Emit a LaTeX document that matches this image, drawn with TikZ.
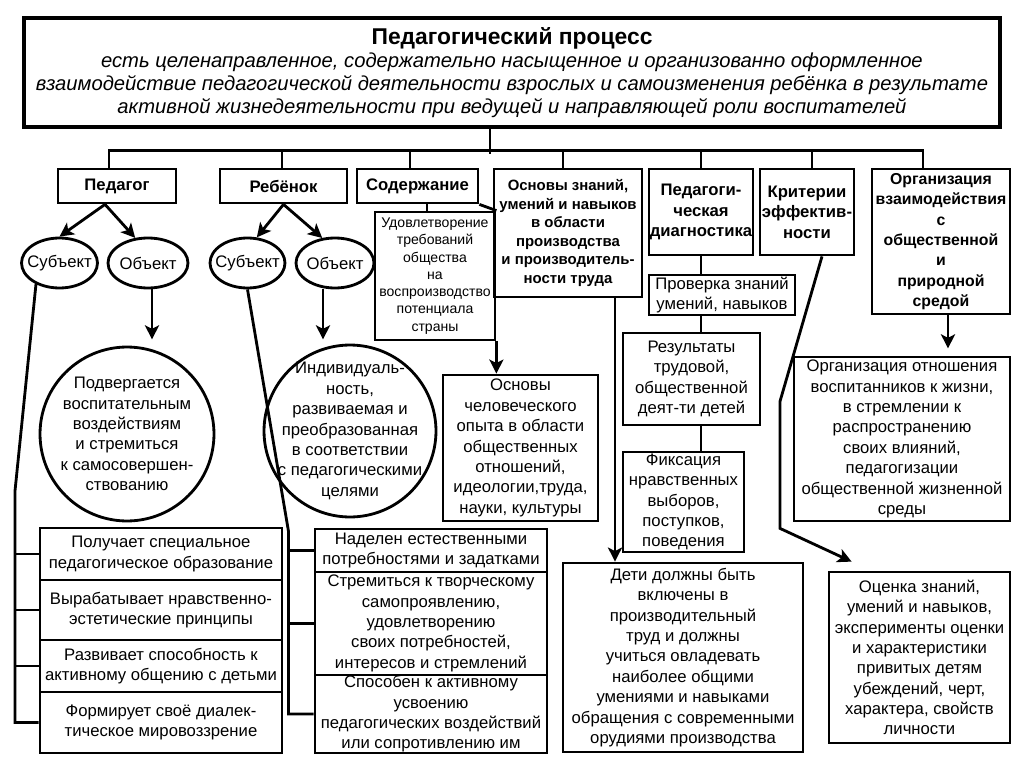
\documentclass[tikz,border=0pt]{standalone}
\usepackage{fontspec}
\setmainfont{Liberation Sans}
\usepackage{tikz}
\usetikzlibrary{arrows.meta, shapes.geometric}

\begin{document}
\begin{tikzpicture}[x=0.02cm, y=-0.02cm, font=\fontsize{9.5}{11.6}\selectfont,
    box/.style={draw, line width=1.6pt, inner sep=0pt, align=center},
    head/.style={box, font=\fontsize{9.5}{11.6}\selectfont\bfseries},
    oval/.style={draw, ellipse, line width=1.6pt, inner sep=0pt, minimum height=1cm},
    ring/.style={draw, circle, line width=1.6pt, inner sep=0pt},
    link/.style={line width=1.6pt},
    arr/.style={line width=1.6pt, -{Stealth[length=8pt, width=8pt, inset=2pt]}}]
    \fill[white] (0,0) rectangle (1024,767);

    % Заголовок
    \node (title) [box, line width=2pt, font=\fontsize{11.5}{13}\selectfont, minimum width=19.52cm, minimum height=2.18cm] at (512,72.5)
        {{\fontsize{13}{13}\selectfont\bfseries Педагогический процесс}\\
         \itshape есть целенаправленное, содержательно насыщенное и организованно оформленное\\
         \itshape взаимодействие педагогической деятельности взрослых и самоизменения ребёнка в результате\\
         \itshape активной жизнедеятельности при ведущей и направляющей роли воспитателей};

    % Ветви верхнего уровня
    \node (pedagog) [head, minimum width=2.36cm, minimum height=0.68cm] at (117,186) {Педагог};
    \node (rebenok) [head, minimum width=2.54cm, minimum height=0.68cm] at (283.5,186) {Ребёнок};
    \node (soderzh) [head, minimum width=2.42cm, minimum height=0.68cm] at (417.5,186) {Содержание};
    \node (osnovy) [head, font=\fontsize{8.5}{10.6}\selectfont\bfseries, minimum width=2.96cm, minimum height=2.56cm] at (568,233)
        {Основы знаний,\\умений и навыков\\в области\\производства\\и производитель-\\ности труда};
    \node (diag) [head, minimum width=2.08cm, minimum height=1.72cm] at (701,212) {Педагоги-\\ческая\\диагностика};
    \node (krit) [head, minimum width=1.88cm, minimum height=1.72cm] at (807,212) {Критерии\\эффектив-\\ности};
    \node (organiz) [head, font=\fontsize{9}{11.6}\selectfont\bfseries, minimum width=2.76cm, minimum height=2.9cm] at (941,241.5)
        {Организация\\взаимодействия\\с\\общественной\\и\\природной\\средой};

    % Общая шина
    \draw[link] ([xshift=-0.44cm]title.south) -- ++(0,25);
    \draw[link] ([xshift=-0.16cm]pedagog.north) -- ++(0,-17) -| ([xshift=-0.36cm]organiz.north);
    \draw[link] ([xshift=-0.03cm]rebenok.north) -- ++(0,-17);
    \draw[link] ([xshift=-0.15cm]soderzh.north) -- ++(0,-17);
    \draw[link] ([xshift=-0.1cm]osnovy.north) -- ++(0,-17);
    \draw[link] (diag.north) -- ++(0,-17);
    \draw[link] ([xshift=0.1cm]krit.north) -- ++(0,-17);

    % Субъект и объект
    \node (subj1) [oval, minimum width=1.52cm, label=center:Субъект] at (59.5,263) {};
    \node (obj1) [oval, minimum width=1.6cm, label=center:Объект] at (148,263) {};
    \node (subj2) [oval, minimum width=1.5cm, label=center:Субъект] at (247.5,263) {};
    \node (obj2) [oval, minimum width=1.56cm, label=center:Объект] at (335,263) {};

    \draw[arr] ([xshift=-0.24cm]pedagog.south) -- (subj1.north);
    \draw[arr] ([xshift=-0.24cm]pedagog.south) -- (obj1.117);
    \draw[arr] (rebenok.south) -- (subj2.70);
    \draw[arr] (rebenok.south) -- (obj2.117);

    \node (circ1) [ring, minimum size=3.48cm, label={[align=center]center:Подвергается\\воспитательным\\воздействиям\\и стремиться\\к самосовершен-\\ствованию}] at (127,434) {};
    \node (circ2) [ring, minimum size=3.44cm, label={[align=center]center:Индивидуаль-\\ность,\\развиваемая и\\преобразованная\\в соответствии\\с педагогическими\\целями}] at (350,431) {};

    \draw[arr] ([xshift=0.08cm]obj1.south) -- ++(0,50);
    \draw[arr] ([xshift=-0.24cm]obj2.south) -- ++(0,50);

    % Педагог
    \node (l1) [box, minimum width=4.84cm, minimum height=1.04cm] at (161,554) {Получает специальное\\педагогическое образование};
    \node (l2) [box, minimum width=4.84cm, minimum height=1.2cm] at (161,610) {Вырабатывает нравственно-\\эстетические принципы};
    \node (l3) [box, minimum width=4.84cm, minimum height=1.04cm] at (161,666) {Развивает способность к\\активному общению с детьми};
    \node (l4) [box, minimum width=4.84cm, minimum height=1.22cm] at (161,722.5) {Формирует своё диалек-\\тическое мировоззрение};

    \draw[link] (subj1.222) -- ++(-21,207) |- (l4.west);
    \draw[link] (l1.west) -- ++(-24,0);
    \draw[link] (l2.west) -- ++(-24,0);
    \draw[link] (l3.west) -- ++(-24,0);

    % Ребёнок
    \node (r1) [box, minimum width=4.64cm, minimum height=0.86cm] at (431,550.5) {Наделен естественными\\потребностями и задатками};
    \node (r2) [box, minimum width=4.64cm, minimum height=2.06cm] at (431,623.5) {Стремиться к творческому\\самопроявлению,\\удовлетворению\\своих потребностей,\\интересов и стремлений};
    \node (r3) [box, minimum width=4.64cm, minimum height=1.56cm] at (431,714) {Способен к активному\\усвоению\\педагогических воздействий\\или сопротивлению им};

    \draw[link] (subj2.south) -- ++(41,242) |- (r3.west);
    \draw[link] (r1.west) -- ++(-27,0);
    \draw[link] (r2.west) -- ++(-27,0);

    % Содержание
    \node (udovl) [box, font=\fontsize{8}{9.8}\selectfont, minimum width=2.4cm, minimum height=2.56cm] at (435,276)
        {Удовлетворение\\требований\\общества\\на\\воспроизводство\\потенциала\\страны};
    \node (opyt) [box, minimum width=3.1cm, minimum height=2.92cm] at (520.5,448)
        {Основы\\человеческого\\опыта в области\\общественных\\отношений,\\идеологии,труда,\\науки, культуры};
    \node (deti) [box, minimum width=4.8cm, minimum height=3.78cm] at (683,657.5)
        {Дети должны быть\\включены в\\производительный\\труд и должны\\учиться овладевать\\наиболее общими\\умениями и навыками\\обращения с современными\\орудиями производства};

    \draw[link] ([xshift=-0.16cm]udovl.north) -- ++(0,-9);
    \draw[link] (soderzh.south east) -- (udovl.north east);
    \draw[arr] (udovl.south east) -- (udovl.south east |- opyt.north);
    \draw[arr] ([xshift=0.94cm]osnovy.south) -- ([xshift=0.94cm]osnovy.south |- deti.north);

    % Педагогическая диагностика
    \node (proverka) [box, minimum width=2.92cm, minimum height=0.8cm] at (722,295) {Проверка знаний\\умений, навыков};
    \node (rezult) [box, minimum width=2.74cm, minimum height=1.84cm] at (691.5,379) {Результаты\\трудовой,\\общественной\\деят-ти детей};
    \node (fiks) [box, minimum width=2.42cm, minimum height=2cm] at (683.5,502) {Фиксация\\нравственных\\выборов,\\поступков,\\поведения};

    \draw[link] (diag.south) -- (diag.south |- proverka.north);
    \draw[link] (diag.south |- proverka.south) -- (diag.south |- rezult.north);
    \draw[link] (diag.south |- rezult.south) -- (diag.south |- fiks.north);

    % Критерии и организация
    \node (orgrel) [box, minimum width=4.32cm, minimum height=3.28cm] at (902,439)
        {Организация отношения\\воспитанников к жизни,\\в стремлении к\\распространению\\своих влияний,\\педагогизации\\общественной жизненной\\среды};
    \node (ocenka) [box, minimum width=3.62cm, minimum height=3.42cm] at (919.5,657.5)
        {Оценка знаний,\\умений и навыков,\\эксперименты оценки\\и характеристики\\привитых детям\\убеждений, черт,\\характера, свойств\\личности};

    \draw[arr] ([xshift=0.3cm]krit.south) -- ++(-42,145) -- ++(0,127) -- ([xshift=0.48cm, yshift=0.18cm]ocenka.north west);
    \draw[arr] ([xshift=0.14cm]organiz.south) -- ++(0,33);
\end{tikzpicture}
\end{document}
